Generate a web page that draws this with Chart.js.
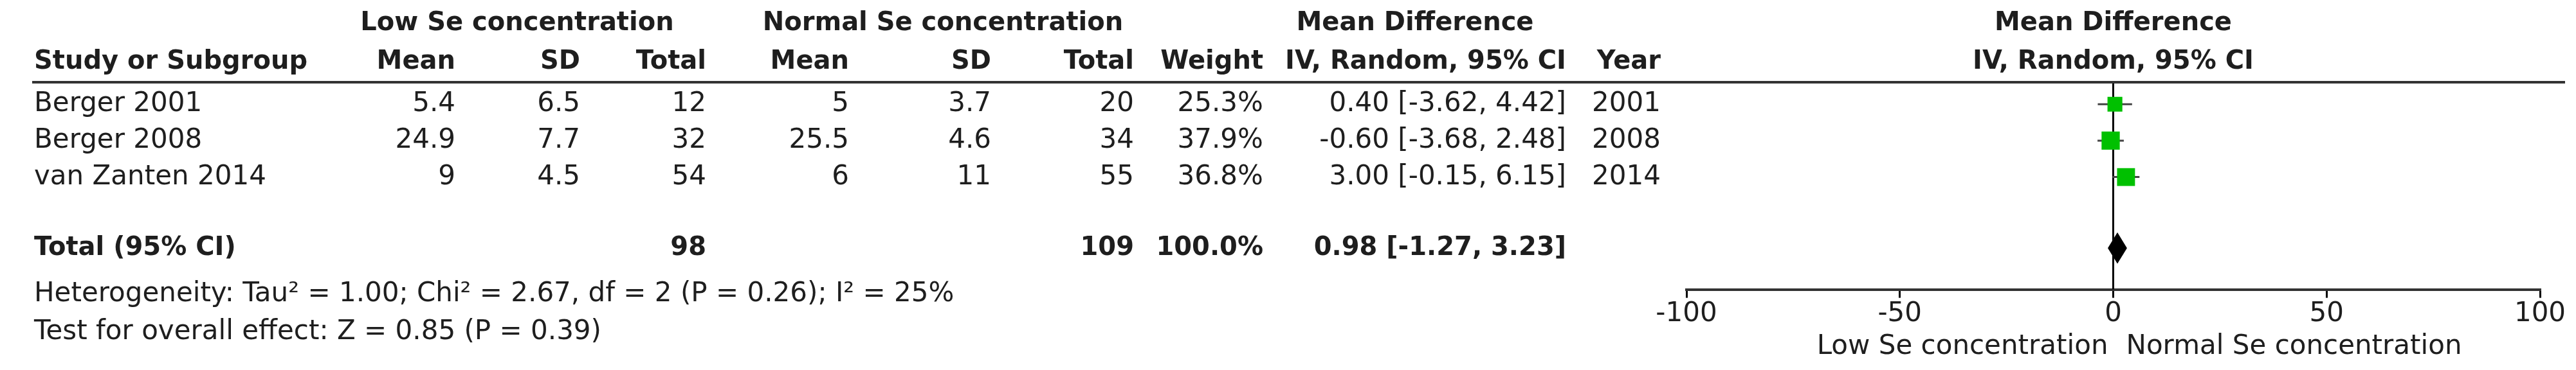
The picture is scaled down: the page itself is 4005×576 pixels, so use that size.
<!DOCTYPE html>
<html lang="en">
<head>
    <meta charset="UTF-8">
    <title>Forest plot - Se concentration</title>
    <script src="https://cdn.jsdelivr.net/npm/chart.js"></script>
    <style>
        body { margin: 0; background: #fff; }
        #wrap { width: 4005px; height: 576px; }
    </style>
</head>
<body>
    <div id="wrap"><canvas id="forest"></canvas></div>

    <script>
        // Study data
        var studies = ['Berger 2001', 'Berger 2008', 'van Zanten 2014'];
        var lowMean = ['5.4', '24.9', '9'];
        var lowSD = ['6.5', '7.7', '4.5'];
        var lowN = [12, 32, 54];
        var normMean = ['5', '25.5', '6'];
        var normSD = ['3.7', '4.6', '11'];
        var normN = [20, 34, 55];
        var weights = [25.3, 37.9, 36.8];
        var md = [0.40, -0.60, 3.00];
        var ciLo = [-3.62, -3.68, -0.15];
        var ciHi = [4.42, 2.48, 6.15];
        var years = [2001, 2008, 2014];

        // Pooled result
        var totalLowN = 98;
        var totalNormN = 109;
        var totalMd = 0.98, totalLo = -1.27, totalHi = 3.23;
        var heterogeneity = 'Heterogeneity: Tau² = 1.00; Chi² = 2.67, df = 2 (P = 0.26); I² = 25%';
        var overallTest = 'Test for overall effect: Z = 0.85 (P = 0.39)';

        var xTicks = [-100, -50, 0, 50, 100];

        var FONT = '"DejaVu Sans", sans-serif';
        var INK = '#1e1e1e';
        var GREEN = '#00c000';
        var TOTAL_ROW = 3.95;

        function ci(m, l, h) {
            return m.toFixed(2) + ' [' + l.toFixed(2) + ', ' + h.toFixed(2) + ']';
        }

        var points = studies.map(function (s, i) { return { x: md[i], y: i }; });

        // Draws the table, CI whiskers, diamond and reference lines
        var forestPlugin = {
            id: 'forest',
            beforeDatasetsDraw: function (chart) {
                var ctx = chart.ctx;
                var xs = chart.scales.x, ys = chart.scales.y;
                ctx.save();
                // line of no effect
                ctx.strokeStyle = '#000';
                ctx.lineWidth = 3;
                ctx.beginPath();
                ctx.moveTo(xs.getPixelForValue(0), 128);
                ctx.lineTo(xs.getPixelForValue(0), chart.chartArea.bottom);
                ctx.stroke();
                // CI whiskers
                ctx.strokeStyle = '#444';
                ctx.lineWidth = 3;
                studies.forEach(function (s, i) {
                    var py = ys.getPixelForValue(i);
                    ctx.beginPath();
                    ctx.moveTo(xs.getPixelForValue(ciLo[i]), py);
                    ctx.lineTo(xs.getPixelForValue(ciHi[i]), py);
                    ctx.stroke();
                });
                ctx.restore();
            },
            afterDatasetsDraw: function (chart) {
                var ctx = chart.ctx;
                var xs = chart.scales.x, ys = chart.scales.y;
                ctx.save();

                // header rule
                ctx.strokeStyle = '#333';
                ctx.lineWidth = 4;
                ctx.beginPath();
                ctx.moveTo(50, 128); ctx.lineTo(3988, 128);
                ctx.stroke();

                // pooled diamond
                var ty = ys.getPixelForValue(TOTAL_ROW);
                var dh = Math.abs(ys.getPixelForValue(TOTAL_ROW + 0.43) - ty);
                ctx.fillStyle = '#000';
                ctx.beginPath();
                ctx.moveTo(xs.getPixelForValue(totalLo), ty);
                ctx.lineTo(xs.getPixelForValue(totalMd), ty - dh);
                ctx.lineTo(xs.getPixelForValue(totalHi), ty);
                ctx.lineTo(xs.getPixelForValue(totalMd), ty + dh);
                ctx.closePath();
                ctx.fill();

                // text
                ctx.fillStyle = INK;
                ctx.textBaseline = 'middle';
                function txt(s, x, y, align, bold) {
                    ctx.font = bold ? 'bold 40px ' + FONT : '42px ' + FONT;
                    ctx.textAlign = align;
                    ctx.fillText(s, x, y);
                }
                var cx0 = xs.getPixelForValue(0);
                txt('Low Se concentration', 804, 37, 'center', true);
                txt('Normal Se concentration', 1466, 37, 'center', true);
                txt('Mean Difference', 2200, 37, 'center', true);
                txt('Mean Difference', cx0, 37, 'center', true);

                txt('Study or Subgroup', 53, 97, 'left', true);
                txt('Mean', 708, 97, 'right', true);
                txt('SD', 902, 97, 'right', true);
                txt('Total', 1098, 97, 'right', true);
                txt('Mean', 1320, 97, 'right', true);
                txt('SD', 1541, 97, 'right', true);
                txt('Total', 1763, 97, 'right', true);
                txt('Weight', 1964, 97, 'right', true);
                txt('IV, Random, 95% CI', 2435, 97, 'right', true);
                txt('Year', 2582, 97, 'right', true);
                txt('IV, Random, 95% CI', cx0, 97, 'center', true);

                studies.forEach(function (s, i) {
                    var py = ys.getPixelForValue(i);
                    txt(s, 53, py, 'left');
                    txt(lowMean[i], 708, py, 'right');
                    txt(lowSD[i], 902, py, 'right');
                    txt(String(lowN[i]), 1098, py, 'right');
                    txt(normMean[i], 1320, py, 'right');
                    txt(normSD[i], 1541, py, 'right');
                    txt(String(normN[i]), 1763, py, 'right');
                    txt(weights[i].toFixed(1) + '%', 1964, py, 'right');
                    txt(ci(md[i], ciLo[i], ciHi[i]), 2435, py, 'right');
                    txt(String(years[i]), 2582, py, 'right');
                });

                txt('Total (95% CI)', 53, ty, 'left', true);
                txt(String(totalLowN), 1098, ty, 'right', true);
                txt(String(totalNormN), 1763, ty, 'right', true);
                txt('100.0%', 1964, ty, 'right', true);
                txt(ci(totalMd, totalLo, totalHi), 2435, ty, 'right', true);
                txt(heterogeneity, 53, 458, 'left');
                txt(overallTest, 53, 517, 'left');

                txt('Low Se concentration', cx0 - 8, 540, 'right');
                txt('Normal Se concentration', cx0 + 20, 540, 'left');
                ctx.restore();
            }
        };

        new Chart(document.getElementById('forest'), {
            type: 'scatter',
            data: {
                datasets: [{
                    data: points,
                    pointStyle: 'rect',
                    pointRadius: weights.map(function (w) { return 3.25 * Math.sqrt(w); }),
                    backgroundColor: GREEN,
                    borderColor: GREEN,
                    borderWidth: 0
                }]
            },
            options: {
                responsive: true,
                maintainAspectRatio: false,
                animation: false,
                layout: { padding: { left: 2622, right: 56, top: 128, bottom: 62 } },
                plugins: { legend: { display: false }, tooltip: { enabled: false } },
                scales: {
                    x: {
                        type: 'linear',
                        min: -100,
                        max: 100,
                        afterBuildTicks: function (axis) {
                            axis.ticks = xTicks.map(function (v) { return { value: v }; });
                        },
                        grid: { drawOnChartArea: false, tickLength: 13, color: '#000', lineWidth: 3 },
                        border: { color: '#333', width: 4 },
                        ticks: { color: INK, font: { family: FONT, size: 42 }, padding: 0 }
                    },
                    y: {
                        type: 'linear',
                        display: false,
                        reverse: true,
                        min: -0.603,
                        max: 5.086
                    }
                }
            },
            plugins: [forestPlugin]
        });
    </script>
</body>
</html>
